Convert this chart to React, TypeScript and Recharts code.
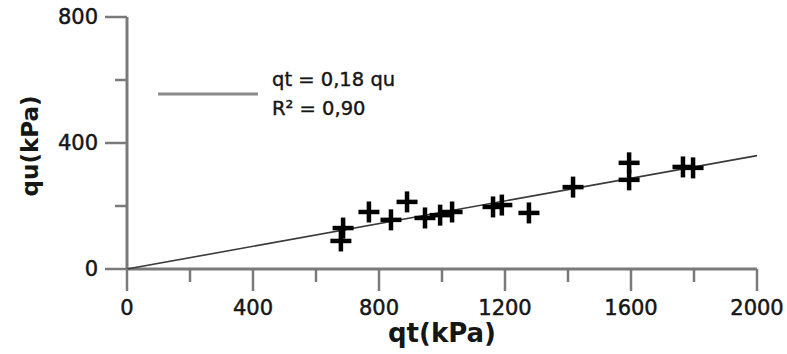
import React from 'react';
import { ScatterChart, Scatter, XAxis, YAxis } from 'recharts';

// Measured points (qt in kPa, qu in kPa)
const qtValues = [679, 686, 768, 838, 889, 946, 994, 1032, 1162, 1190, 1276, 1416, 1594, 1594, 1765, 1797];
const quValues = [89, 130, 181, 156, 213, 162, 171, 181, 197, 203, 178, 260, 337, 283, 324, 321];

// Regression line qu = 0.18 qt endpoints
const fitX = [0, 2000];
const fitSlope = 0.18;

const xTicks = [0, 200, 400, 600, 800, 1000, 1200, 1400, 1600, 1800, 2000];
const yTicks = [0, 200, 400, 600, 800];

const legendLines = ['qt = 0,18 qu', 'R² = 0,90'];

const points = qtValues.map((x, i) => ({ x, y: quValues[i] }));
const fitData = fitX.map((x) => ({ x, y: x * fitSlope }));

const AXIS = '#7a7a7a';
const TEXT = '#161616';
const FONT = '"DejaVu Sans", sans-serif';

const XTick = (props: any) => {
  const { x, y, payload } = props;
  const major = payload.value % 400 === 0;
  return (
    <g>
      <line x1={x} x2={x} y1={y} y2={y + (major ? 22 : 13)} stroke={AXIS} strokeWidth={2.5} />
      {major && (
        <text x={x} y={y + 39} textAnchor="middle" dominantBaseline="central" fontFamily={FONT} fontSize={21} fill={TEXT}
          stroke={TEXT} strokeWidth={0.5}>
          {payload.value}
        </text>
      )}
    </g>
  );
};

const YTick = (props: any) => {
  const { x, y, payload } = props;
  const major = payload.value % 400 === 0;
  return (
    <g>
      <line x1={x} x2={x - (major ? 22 : 12)} y1={y} y2={y} stroke={AXIS} strokeWidth={2.5} />
      {major && (
        <text x={x - 29} y={y} textAnchor="end" dominantBaseline="central" fontFamily={FONT} fontSize={21} fill={TEXT}
          stroke={TEXT} strokeWidth={0.5}>
          {payload.value}
        </text>
      )}
    </g>
  );
};

const Plus = (props: any) => {
  const { cx, cy } = props;
  const h = 10.5;
  return (
    <g stroke="#000" strokeWidth={4.5}>
      <line x1={cx - h} x2={cx + h} y1={cy} y2={cy} />
      <line x1={cx} x2={cx} y1={cy - h} y2={cy + h} />
    </g>
  );
};

const NoShape = () => null;

const LegendBox = () => (
  <svg width={260} height={60} style={{ position: 'absolute', left: 156, top: 66 }}>
    <line x1={2} x2={102} y1={28} y2={28} stroke="#8a8a8a" strokeWidth={3} />
    <text x={116} y={13} dominantBaseline="central" fontFamily={FONT} fontSize={19.5} fill={TEXT} stroke={TEXT} strokeWidth={0.4}>
      {legendLines[0]}
    </text>
    <text x={116} y={42} dominantBaseline="central" fontFamily={FONT} fontSize={19.5} fill={TEXT} stroke={TEXT} strokeWidth={0.4}>
      {legendLines[1]}
    </text>
  </svg>
);

const XLabel = (props: any) => {
  const { viewBox } = props;
  return (
    <text x={viewBox.x + viewBox.width / 2} y={viewBox.y + 64} textAnchor="middle" dominantBaseline="central"
      fontFamily={FONT} fontWeight="bold" fontSize={26} fill={TEXT}>
      qt(kPa)
    </text>
  );
};

const YLabel = (props: any) => {
  const { viewBox } = props;
  const cx = 30;
  const cy = viewBox.y + viewBox.height / 2 + 3;
  return (
    <text x={cx} y={cy} textAnchor="middle" dominantBaseline="central" transform={`rotate(-90, ${cx}, ${cy})`}
      fontFamily={FONT} fontWeight="bold" fontSize={23} fill={TEXT}>
      qu(kPa)
    </text>
  );
};

export default function App() {
  return (
    <div style={{ position: 'absolute', left: 0, top: 0, width: 787, height: 354, background: '#fff' }}>
      <ScatterChart width={787} height={354} margin={{ top: 17, right: 30, left: 0, bottom: 0 }}>
        <XAxis
          type="number"
          dataKey="x"
          domain={[0, 2000]}
          ticks={xTicks}
          interval={0}
          height={85}
          tickSize={0}
          tickMargin={0}
          tickLine={false}
          tick={<XTick />}
          axisLine={{ stroke: AXIS, strokeWidth: 3 }}
          label={<XLabel />}
        />
        <YAxis
          type="number"
          dataKey="y"
          domain={[0, 800]}
          ticks={yTicks}
          interval={0}
          width={127}
          tickSize={0}
          tickMargin={0}
          tickLine={false}
          tick={<YTick />}
          axisLine={{ stroke: AXIS, strokeWidth: 3 }}
          label={<YLabel />}
        />
        <Scatter data={fitData} line={{ stroke: '#3a3a3a', strokeWidth: 1.6 }} shape={<NoShape />} isAnimationActive={false} />
        <Scatter data={points} shape={<Plus />} isAnimationActive={false} />
      </ScatterChart>
      <LegendBox />
    </div>
  );
}
